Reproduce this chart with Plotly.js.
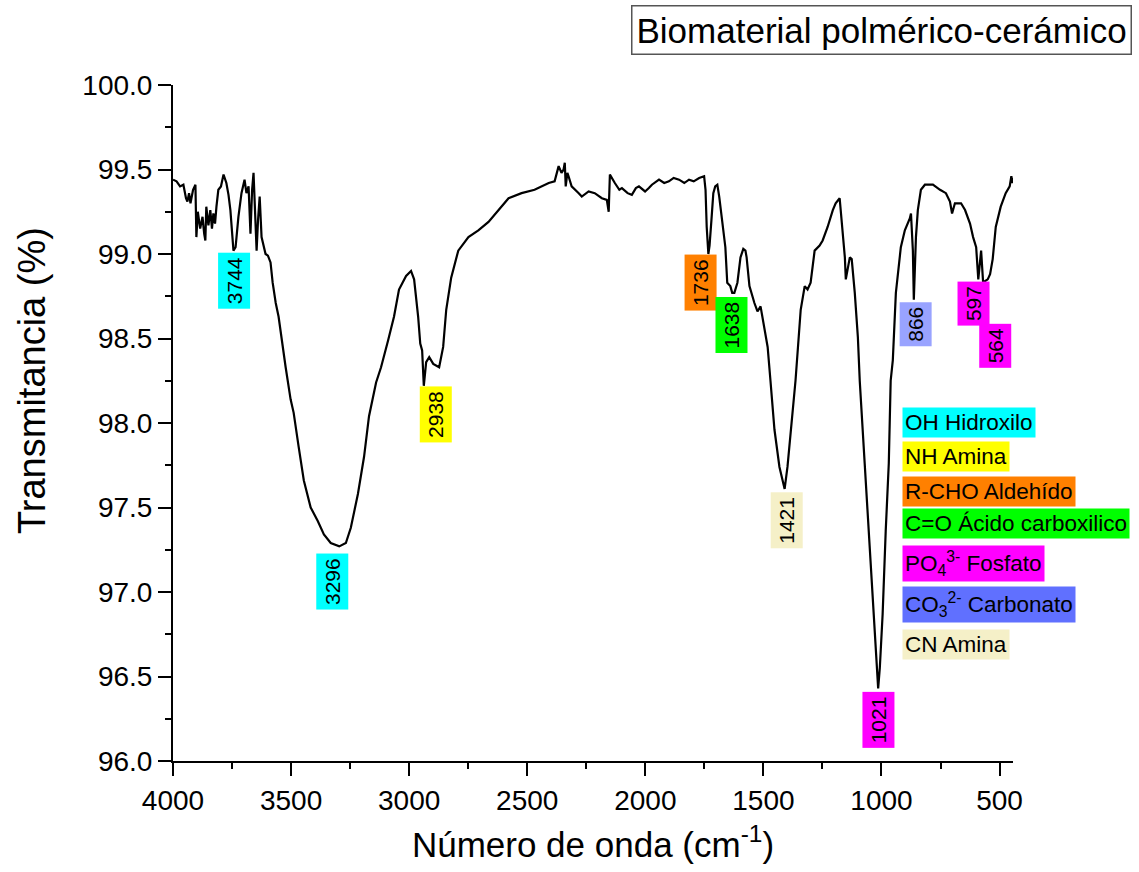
<!DOCTYPE html>
<html>
<head>
<meta charset="utf-8">
<script src="https://cdn.plot.ly/plotly-3.0.1.min.js"></script>
<style>html,body{margin:0;padding:0;background:#fff;}#chart{width:1139px;height:872px;}</style>
</head>
<body>
<div id="chart"></div>
<script>
// Spectrum (wavenumber cm-1, transmittance %)
const wavenumber = [4000,3985,3970,3956,3945,3939,3932,3926,3915,3905,3901,3895,3885,3875,3868,3863,3859,3850,3842,3835,3829,3822,3816,3808,3797,3786,3774,3765,3757,3748,3744,3735,3723,3710,3697,3689,3680,3672,3665,3659,3652,3646,3640,3633,3625,3615,3608,3598,3587,3578,3565,3553,3544,3523,3502,3489,3468,3446,3417,3387,3361,3332,3296,3268,3247,3217,3191,3170,3140,3119,3089,3064,3043,3013,2992,2979,2962,2953,2945,2938,2928,2915,2898,2873,2856,2843,2822,2792,2749,2707,2664,2622,2579,2524,2469,2409,2384,2367,2355,2346,2341,2337,2330,2325,2312,2282,2269,2240,2214,2184,2163,2155,2150,2129,2110,2099,2075,2057,2040,2027,2001,1985,1972,1942,1920,1900,1880,1857,1835,1815,1795,1772,1751,1745,1740,1733,1728,1720,1712,1704,1695,1687,1674,1661,1653,1645,1640,1632,1623,1610,1597,1585,1576,1571,1559,1538,1525,1512,1495,1482,1470,1453,1432,1410,1398,1376,1364,1342,1325,1313,1300,1283,1262,1249,1228,1206,1194,1177,1172,1155,1151,1134,1126,1113,1100,1092,1071,1050,1028,1020,1014,1007,995,982,969,961,952,939,918,901,880,875,867,863,854,846,833,816,782,752,727,710,701,689,663,646,625,612,599,590,582,578,569,561,550,540,529,516,495,474,457,450,445,443];
const transmittance = [99.44,99.43,99.40,99.41,99.33,99.31,99.36,99.30,99.38,99.41,99.10,99.25,99.15,99.22,99.12,99.08,99.28,99.17,99.26,99.15,99.24,99.18,99.28,99.38,99.40,99.47,99.42,99.35,99.26,99.10,99.02,99.04,99.22,99.36,99.44,99.36,99.40,99.12,99.38,99.48,99.25,99.02,99.20,99.34,99.10,99.05,99.00,98.99,98.95,98.83,98.71,98.63,98.53,98.33,98.14,98.06,97.86,97.66,97.50,97.42,97.34,97.29,97.27,97.29,97.38,97.58,97.80,98.04,98.24,98.33,98.49,98.63,98.79,98.87,98.90,98.85,98.63,98.47,98.43,98.22,98.36,98.39,98.35,98.33,98.45,98.67,98.86,99.02,99.10,99.14,99.19,99.26,99.33,99.36,99.38,99.42,99.43,99.52,99.48,99.50,99.54,99.40,99.48,99.46,99.40,99.36,99.34,99.37,99.36,99.33,99.32,99.25,99.47,99.42,99.38,99.39,99.36,99.35,99.39,99.40,99.37,99.39,99.41,99.44,99.42,99.43,99.45,99.44,99.42,99.44,99.43,99.45,99.46,99.38,99.16,99.00,99.05,99.20,99.36,99.40,99.41,99.34,99.20,99.04,98.83,98.82,98.81,98.77,98.77,98.83,98.98,99.03,99.02,98.98,98.81,98.71,98.66,98.69,98.55,98.45,98.25,97.96,97.74,97.61,97.74,98.08,98.25,98.67,98.81,98.79,98.83,99.02,99.05,99.08,99.16,99.26,99.30,99.33,99.26,98.98,98.85,98.98,98.97,98.77,98.51,98.25,97.76,97.27,96.77,96.54,96.43,96.55,96.87,97.36,97.76,98.25,98.37,98.77,99.04,99.14,99.21,99.24,99.02,98.73,99.10,99.26,99.38,99.41,99.41,99.38,99.36,99.31,99.24,99.30,99.30,99.26,99.18,99.10,99.04,98.85,99.00,99.02,98.82,98.84,98.85,98.88,98.97,99.16,99.28,99.36,99.40,99.46,99.42,99.45];

// Peak labels: text, label centre (cm-1), label top (%), colour
const peakText = ['3744','3296','2938','1736','1638','1421','1021','866','597','564'];
const peakX = [3740,3325,2888,1766,1634,1400,1014,854,610,517];
const peakY = [99.01,97.23,98.22,99.00,98.75,97.59,96.41,98.72,98.84,98.59];
const peakColor = ['#00FFFF','#00FFFF','#FFFF00','#FF8000','#00FF00','#F5F0C8','#FF00FF','#99A3FF','#FF00FF','#FF00FF'];

// Assignment key
const keyText = ['OH Hidroxilo','NH Amina','R-CHO Aldehído','C=O Ácido carboxilico','PO<sub>4</sub><sup>3-</sup> Fosfato','CO<sub>3</sub><sup>2-</sup> Carbonato','CN Amina'];
const keyColor = ['#00FFFF','#FFFF00','#FF8000','#00FF00','#FF00FF','#6070FF','#F5F0C8'];

const FONT = 'Liberation Sans, Arial, sans-serif';
const L = 173, R = 1013, T = 85, B = 761;
const px2paperX = p => (p - L) / (R - L);
const px2paperY = p => (B - p) / (B - T);
const keyTops = [407, 441, 476, 508, 545, 586, 629];

const annotations = [];
peakText.forEach((t, i) => annotations.push({
  x: peakX[i], y: peakY[i], xref: 'x', yref: 'y', text: t, showarrow: false,
  textangle: -90, xanchor: 'center', yanchor: 'top', bgcolor: peakColor[i],
  borderpad: 4, font: {family: FONT, size: 21, color: '#000'}
}));
keyText.forEach((t, i) => annotations.push({
  x: px2paperX(902), y: px2paperY(keyTops[i]), xref: 'paper', yref: 'paper', text: t,
  showarrow: false, xanchor: 'left', yanchor: 'top', align: 'left', bgcolor: keyColor[i],
  borderpad: 2, font: {family: FONT, size: 22.5, color: '#000'}
}));
annotations.push({
  x: px2paperX(1132), y: px2paperY(5), xref: 'paper', yref: 'paper',
  text: 'Biomaterial polmérico-cerámico', showarrow: false, xanchor: 'right', yanchor: 'top',
  bordercolor: '#555', borderwidth: 1.5, borderpad: 4, bgcolor: '#fff',
  font: {family: FONT, size: 35, color: '#000'}
});
// Y axis title (placed as in the reference, above the plot centre)
annotations.push({
  x: px2paperX(32), y: px2paperY(381), xref: 'paper', yref: 'paper',
  text: 'Transmitancia (%)', showarrow: false, textangle: -90,
  xanchor: 'center', yanchor: 'middle', font: {family: FONT, size: 38, color: '#000'}
});

const trace = {
  x: wavenumber, y: transmittance, type: 'scatter', mode: 'lines',
  line: {color: '#000', width: 2.2}, hoverinfo: 'skip'
};

const layout = {
  width: 1139, height: 872,
  margin: {l: L, r: 1139 - R, t: T, b: 872 - B, pad: 0},
  paper_bgcolor: '#fff', plot_bgcolor: '#fff',
  showlegend: false,
  font: {family: FONT, color: '#000'},
  xaxis: {
    range: [4000, 443], autorange: false,
    tick0: 0, dtick: 500, ticks: 'outside', ticklen: 13, tickwidth: 2, tickcolor: '#000',
    minor: {dtick: 250, ticks: 'outside', ticklen: 6, tickwidth: 2, tickcolor: '#000'},
    showline: true, linecolor: '#000', linewidth: 2, showgrid: false, zeroline: false,
    tickfont: {family: FONT, size: 28, color: '#000'},
    title: {text: 'Número de onda (cm<sup>-1</sup>)', font: {family: FONT, size: 35, color: '#000'}, standoff: 18}
  },
  yaxis: {
    range: [96, 100], autorange: false,
    tick0: 96, dtick: 0.5, tickformat: '.1f', ticks: 'outside', ticklen: 13, tickwidth: 2, tickcolor: '#000',
    minor: {dtick: 0.25, ticks: 'outside', ticklen: 6, tickwidth: 2, tickcolor: '#000'},
    showline: true, linecolor: '#000', linewidth: 2, showgrid: false, zeroline: false,
    tickfont: {family: FONT, size: 28, color: '#000'}
  },
  annotations: annotations
};

Plotly.newPlot('chart', [trace], layout, {staticPlot: true, displayModeBar: false});
</script>
</body>
</html>
